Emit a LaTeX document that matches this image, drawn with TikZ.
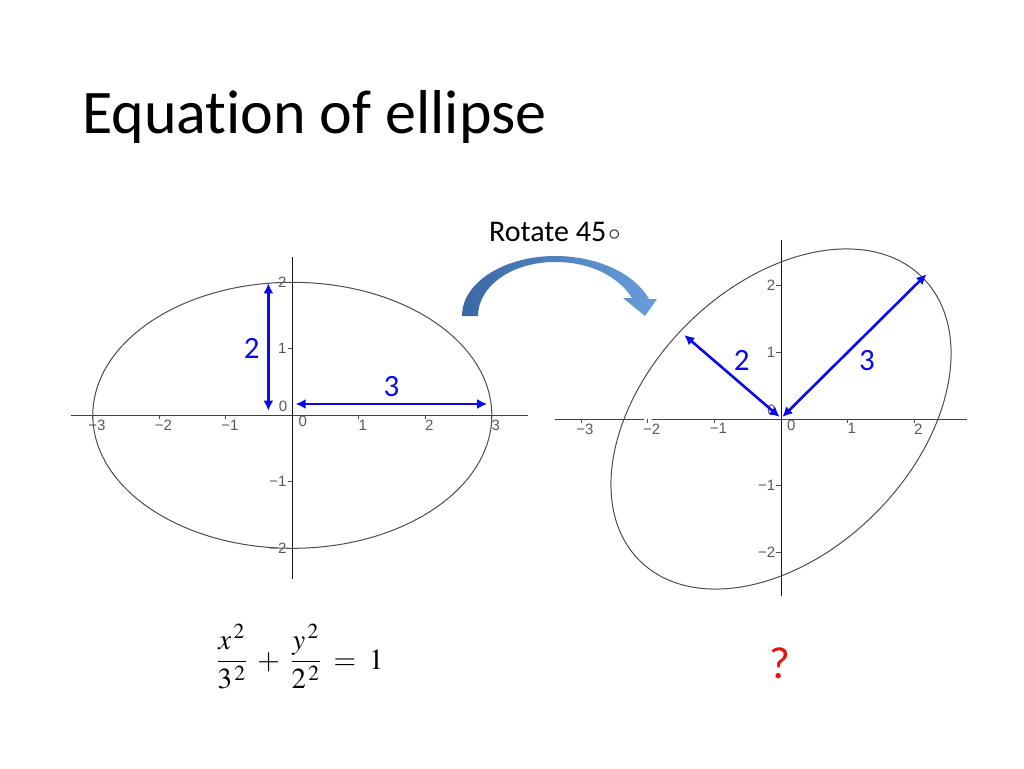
\documentclass[tikz,border=0pt]{standalone}
\usepackage{mathptmx}
\usepackage[no-math]{fontspec}
\setmainfont[Ligatures=NoCommon]{Carlito}
\newfontfamily\tickfont{Liberation Sans}
\usetikzlibrary{arrows.meta}
\definecolor{axblue}{RGB}{10,10,235}
\definecolor{bendl}{RGB}{58,104,166}
\definecolor{bendr}{RGB}{104,158,218}
\definecolor{qred}{RGB}{230,20,20}
\tikzset{
  axisline/.style={line width=1pt, black!75},
  tickmark/.style={line width=0.7pt, black!70},
  conic/.style={line width=1pt, black!70},
  semiaxis/.style={line width=2.6pt, axblue, {Latex[length=10pt,width=10pt]}-{Latex[length=10pt,width=10pt]}},
  ticklbl/.style={font=\tickfont\fontsize{15}{16}\selectfont, text=black!65, inner sep=1pt},
  axlbl/.style={font=\fontsize{31}{33}\selectfont, text=axblue, inner sep=0pt},
}

\begin{document}
\begin{tikzpicture}[x=1pt, y=-1pt]
\useasboundingbox (0,0) rectangle (1024,768);
\node[anchor=base west, inner sep=0pt, font=\fontsize{62}{70}\selectfont] (title) at (82,133) {Equat\kern0pt ion of ellipse};

\begin{scope}[shift={(292.3,415.3)}, x=66.5pt, y=66.5pt]
\coordinate (O1) at (0,0);
\coordinate (xl1) at (-3.33,0); \coordinate (xr1) at (3.54,0);
\coordinate (yb1) at (0,-2.46); \coordinate (yt1) at (0,2.38);
\draw[axisline] (xl1) -- (xr1); \draw[axisline, black!90] (yb1) -- (yt1);
\draw[conic] (O1) ellipse [x radius=3, y radius=2];
\foreach \x/\t [count=\i] in {-3/−3,-2/−2,-1/−1,1/1,2/2,3/3}
  {\draw[tickmark] (\x,0) -- (\x,-0.06); \node[ticklbl, anchor=north, xshift=4pt] (lx\i) at (\x,-0.05) {\t};}
\foreach \y/\t [count=\i] in {-2/−2,-1/−1,1/1,2/2}
  {\draw[tickmark] (0,\y) -- (-0.07,\y); \node[ticklbl, anchor=east] (ly\i) at (-0.07,\y) {\t};}
\node[ticklbl, anchor=north west, xshift=5pt] (lx0) at (O1) {0};
\node[ticklbl, anchor=south east] (ly0) at (-0.06,0.03) {0};
\coordinate (mb1) at (-0.36,0.07); \coordinate (mt1) at (-0.36,1.985);
\coordinate (ma1) at (0.05,0.17); \coordinate (mr1) at (2.93,0.17);
\draw[semiaxis] (mb1) -- (mt1);
\draw[semiaxis] (ma1) -- (mr1);
\node[axlbl] (two1) at (-0.61,1.0) {2};
\node[axlbl] (three1) at (1.49,0.43) {3};
\end{scope}

\shade[left color=bendl, right color=bendr] (462,316) .. controls (462,282) and (505,256) .. (555,256)
  .. controls (598,256) and (635,274) .. (649,299) -- (657,299) -- (645,316) -- (623,298) -- (632,298)
  .. controls (618,276) and (590,262) .. (555,262) .. controls (512,262) and (478,286) .. (478,316) -- cycle;
\node[anchor=base west, inner sep=0pt, font=\fontsize{30}{32}\selectfont] (rot) at (489,241.7) {Rotate 45\kern2pt\raisebox{1.5pt}{\fontsize{24}{24}\selectfont$\circ$}};

\begin{scope}[shift={(781,419)}, x=66.7pt, y=66.7pt]
\coordinate (O2) at (0,0);
\coordinate (xl2) at (-3.39,0); \coordinate (xg2) at (-2.06,0);
\coordinate (xh2) at (-1.94,0); \coordinate (xr2) at (2.79,0);
\coordinate (yb2) at (0,-2.66); \coordinate (yt2) at (0,2.68);
\draw[axisline] (xl2) -- (xg2); \draw[axisline] (xh2) -- (xr2); \draw[axisline, black!90] (yb2) -- (yt2);
\draw[conic, rotate=45] (O2) ellipse [x radius=3, y radius=2];
\foreach \x/\t [count=\i] in {-3/−3,-2/−2,-1/−1,1/1,2/2}
  {\draw[tickmark] (\x,0) -- (\x,-0.06); \node[ticklbl, anchor=north, xshift=4pt] (rx\i) at (\x,-0.05) {\t};}
\foreach \y/\t [count=\i] in {-2/−2,-1/−1,1/1,2/2}
  {\draw[tickmark] (0,\y) -- (-0.07,\y); \node[ticklbl, anchor=east] (ry\i) at (-0.07,\y) {\t};}
\node[ticklbl, anchor=north west, xshift=5pt] (rx0) at (O2) {0};
\node[ticklbl, anchor=south east] (ry0) at (-0.06,0.03) {0};
\coordinate (ms2) at (-0.02,0.03); \coordinate (mn2) at (-1.45,1.26);
\coordinate (ml2) at (0.02,0.03); \coordinate (mj2) at (2.18,2.17);
\draw[semiaxis] (ms2) -- (mn2);
\draw[semiaxis] (ml2) -- (mj2);
\node[axlbl] (two2) at (-0.59,0.88) {2};
\node[axlbl] (three2) at (1.29,0.87) {3};
\end{scope}

\node[font=\fontsize{29}{33}\selectfont] (eqn) at (300,657) {$\displaystyle\frac{x^{\,2}}{3^{\,2}}\;+\;\frac{y^{\,2}}{2^{\,2}}\;=\;1$};
\node[font=\fontsize{45}{48}\selectfont, text=qred] (qmark) at (780,663) {?};
\end{tikzpicture}
\end{document}
